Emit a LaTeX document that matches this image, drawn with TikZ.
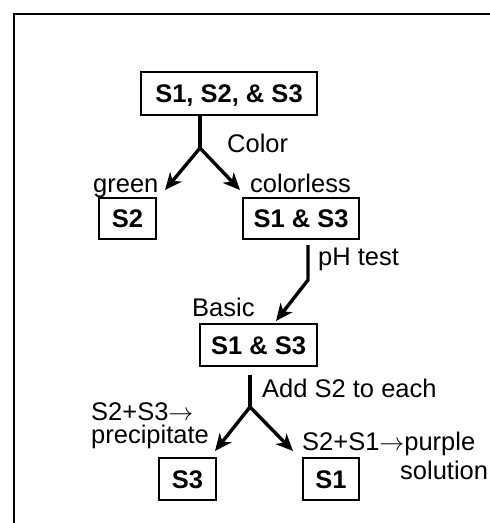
\documentclass[tikz,border=0pt]{standalone}
\usepackage{fontspec}
\setmainfont{Liberation Sans}
\usepackage{tikz}
\usetikzlibrary{arrows.meta}
\usetikzlibrary{positioning}

\tikzset{
  sample/.style={draw, line width=2.8pt, inner sep=0pt, text height=18pt, text depth=0pt,
    font=\fontsize{25.5}{30}\selectfont\bfseries},
  tag/.style={inner sep=0pt, anchor=base west, font=\fontsize{25.5}{30}\selectfont},
  flow/.style={line width=3.4pt},
  split/.style={line width=3.4pt, -{Stealth[length=17pt,width=15pt,inset=5pt]}}
}

\begin{document}
\begin{tikzpicture}[x=1pt, y=-1pt]
      \useasboundingbox (0,0) rectangle (490,523);
      \draw[line width=2.8pt] (14,540) -- (14,14) -- (510,14);

      % samples
      \node[sample, minimum width=176pt, minimum height=43pt] (all) at (229,93.5) {S1, S2, \& S3};
      \node[sample, minimum width=57pt, minimum height=41pt] (green) at (127.5,218.5) {S2};
      \node[sample, minimum width=116pt, minimum height=41pt] (clear) at (301,218.5) {S1 \& S3};
      \node[sample, minimum width=117pt, minimum height=42pt] (basic) at (258.5,345) {S1 \& S3};
      \node[sample, minimum width=57pt, minimum height=42pt] (ppt) at (187.5,479) {S3};
      \node[sample, minimum width=56pt, minimum height=42pt] (purple) at (331,479) {S1};

      % branch points
      \coordinate (fork1) at (200,148);
      \coordinate (tip1l) at (165,190);
      \coordinate (tip1r) at (240,190);
      \coordinate (ph0) at (308,245);
      \coordinate (ph1) at (308,280);
      \coordinate (tip2) at (276,321);
      \coordinate (add0) at (250,375);
      \coordinate (fork2) at (250,407);
      \coordinate (tip3l) at (215,451);
      \coordinate (tip3r) at (293,451);

      \draw[flow] (all.south -| fork1) -- (fork1);
      \draw[split] (fork1) -- (tip1l);
      \draw[split] (fork1) -- (tip1r);
      \draw[split] (ph0) -- (ph1) -- (tip2);
      \draw[flow] (add0) -- (fork2);
      \draw[split] (fork2) -- (tip3l);
      \draw[split] (fork2) -- (tip3r);

      % labels
      \node[tag] (lcolor) at (227,152) {Color};
      \node[tag] (lgreen) at (93,192) {green};
      \node[tag] (lclear) at (250,192) {colorless};
      \node[tag] (lph) at (318,265) {pH test};
      \node[tag] (lbasic) at (192,316) {Basic};
      \node[tag] (ladd) at (262,397) {Add S2 to each};
      \node[tag] (lppt1) at (91,420) {S2+S3$\rightarrow$};
      \node[tag] (lppt2) at (91,443) {precipitate};
      \node[tag] (lpur1) at (302,450) {S2+S1$\rightarrow$purple};
      \node[tag] (lpur2) at (400,479) {solution};
\end{tikzpicture}
\end{document}
